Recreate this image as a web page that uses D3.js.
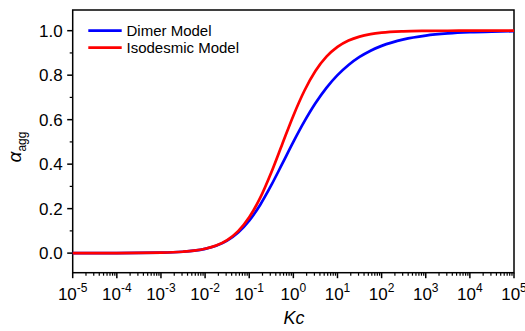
<!DOCTYPE html>
<html>
<head>
<meta charset="utf-8">
<script src="https://cdn.jsdelivr.net/npm/d3@7"></script>
<style>
  body { margin: 0; background: #fff; }
  svg { display: block; }
  text { font-family: Arial, "Liberation Sans", sans-serif; fill: #000; }
</style>
</head>
<body>
<div id="chart"></div>
<script>
// ---- data ----
const kc = [1e-5, 1e-4, 1e-3, 0.00316, 0.00562, 0.01, 0.0178, 0.0316, 0.0562, 0.1,
            0.178, 0.316, 0.562, 1, 1.78, 3.16, 5.62, 10, 17.8, 31.6,
            56.2, 100, 316, 1000, 3162, 1e4, 31623, 1e5];
const dimer = [0.0000, 0.0002, 0.0020, 0.0062, 0.0110, 0.0192, 0.0332, 0.0563, 0.0926, 0.1459,
               0.2177, 0.3053, 0.4021, 0.5000, 0.5920, 0.6736, 0.7430, 0.8000, 0.8458, 0.8819,
               0.9101, 0.9317, 0.9610, 0.9779, 0.9875, 0.9930, 0.9960, 0.9978];
const isodesmic = [0.0000, 0.0002, 0.0020, 0.0063, 0.0111, 0.0195, 0.0341, 0.0587, 0.0988, 0.1608,
                   0.2492, 0.3625, 0.4907, 0.6180, 0.7299, 0.8185, 0.8830, 0.9270, 0.9556, 0.9735,
                   0.9844, 0.9910, 0.9970, 0.9990, 0.9997, 0.9999, 1.0000, 1.0000];
const seriesNames = ["Dimer Model", "Isodesmic Model"];
const seriesColors = ["#0000ff", "#ff0000"];
const xTickExps = [-5, -4, -3, -2, -1, 0, 1, 2, 3, 4, 5];
const yTicks = [0, 0.2, 0.4, 0.6, 0.8, 1.0];
const yMinorTicks = [0.1, 0.3, 0.5, 0.7, 0.9];

const width = 525, height = 331;
const plot = { left: 72.7, right: 514, top: 10, bottom: 272.7 };

const svg = d3.select("#chart").append("svg")
    .attr("width", width)
    .attr("height", height);

const x = d3.scaleLog().domain([1e-5, 1e5]).range([plot.left, plot.right]);
const y = d3.scaleLinear().domain([-0.088, 1.093]).range([plot.bottom, plot.top]);

// frame
svg.append("rect")
    .attr("x", plot.left).attr("y", plot.top)
    .attr("width", plot.right - plot.left).attr("height", plot.bottom - plot.top)
    .attr("fill", "none").attr("stroke", "#000").attr("stroke-width", 1.5);

// ---- x axis ----
const xMinor = [];
xTickExps.slice(0, -1).forEach(e => {
    for (let m = 2; m <= 9; m++) xMinor.push(m * Math.pow(10, e));
});
const xAxis = svg.append("g");
xAxis.selectAll("line.minor").data(xMinor).enter().append("line")
    .attr("class", "minor")
    .attr("x1", d => x(d)).attr("x2", d => x(d))
    .attr("y1", plot.bottom).attr("y2", plot.bottom + 3)
    .attr("stroke", "#000").attr("stroke-width", 1.2);
xAxis.selectAll("line.major").data(xTickExps).enter().append("line")
    .attr("class", "major")
    .attr("x1", d => x(Math.pow(10, d))).attr("x2", d => x(Math.pow(10, d)))
    .attr("y1", plot.bottom).attr("y2", plot.bottom + 5.5)
    .attr("stroke", "#000").attr("stroke-width", 1.5);
const xl = xAxis.selectAll("text").data(xTickExps).enter().append("text")
    .attr("x", d => x(Math.pow(10, d)))
    .attr("y", 299.5)
    .attr("text-anchor", "middle")
    .attr("font-size", "17px");
xl.append("tspan").text("10");
xl.append("tspan").attr("dy", -7.5).attr("font-size", "12px").text(d => String(d));

// ---- y axis ----
const yAxis = svg.append("g");
yAxis.selectAll("line.minor").data(yMinorTicks).enter().append("line")
    .attr("class", "minor")
    .attr("x1", plot.left - 3).attr("x2", plot.left)
    .attr("y1", d => y(d)).attr("y2", d => y(d))
    .attr("stroke", "#000").attr("stroke-width", 1.2);
yAxis.selectAll("line.major").data(yTicks).enter().append("line")
    .attr("class", "major")
    .attr("x1", plot.left - 5.5).attr("x2", plot.left)
    .attr("y1", d => y(d)).attr("y2", d => y(d))
    .attr("stroke", "#000").attr("stroke-width", 1.5);
yAxis.selectAll("text").data(yTicks).enter().append("text")
    .attr("x", plot.left - 10)
    .attr("y", d => y(d) + 6)
    .attr("text-anchor", "end")
    .attr("font-size", "17px")
    .text(d => d3.format(".1f")(d));

// axis titles
svg.append("text")
    .attr("x", 294).attr("y", 324)
    .attr("text-anchor", "middle")
    .attr("font-size", "18px")
    .attr("font-style", "italic")
    .text("Kc");

const yt = svg.append("text")
    .attr("transform", "translate(21,147) rotate(-90)")
    .attr("text-anchor", "middle")
    .attr("font-size", "19px");
yt.append("tspan").attr("font-style", "italic").text("\u03b1");
yt.append("tspan").attr("dy", 5).attr("font-size", "12px").text("agg");

// ---- curves ----
const line = d3.line()
    .x(d => x(d[0]))
    .y(d => y(d[1]))
    .curve(d3.curveMonotoneX);

[dimer, isodesmic].forEach((vals, i) => {
    svg.append("path")
        .datum(kc.map((k, j) => [k, vals[j]]))
        .attr("d", line)
        .attr("fill", "none")
        .attr("stroke", seriesColors[i])
        .attr("stroke-width", 2.7);
});

// ---- legend ----
const legend = svg.append("g");
seriesNames.forEach((name, i) => {
    const ly = 30.7 + i * 17;
    legend.append("line")
        .attr("x1", 88.3).attr("x2", 121.7)
        .attr("y1", ly).attr("y2", ly)
        .attr("stroke", seriesColors[i])
        .attr("stroke-width", 2.7);
    legend.append("text")
        .attr("x", 126.5).attr("y", ly + 5)
        .attr("font-size", "15px")
        .text(name);
});
</script>
</body>
</html>
